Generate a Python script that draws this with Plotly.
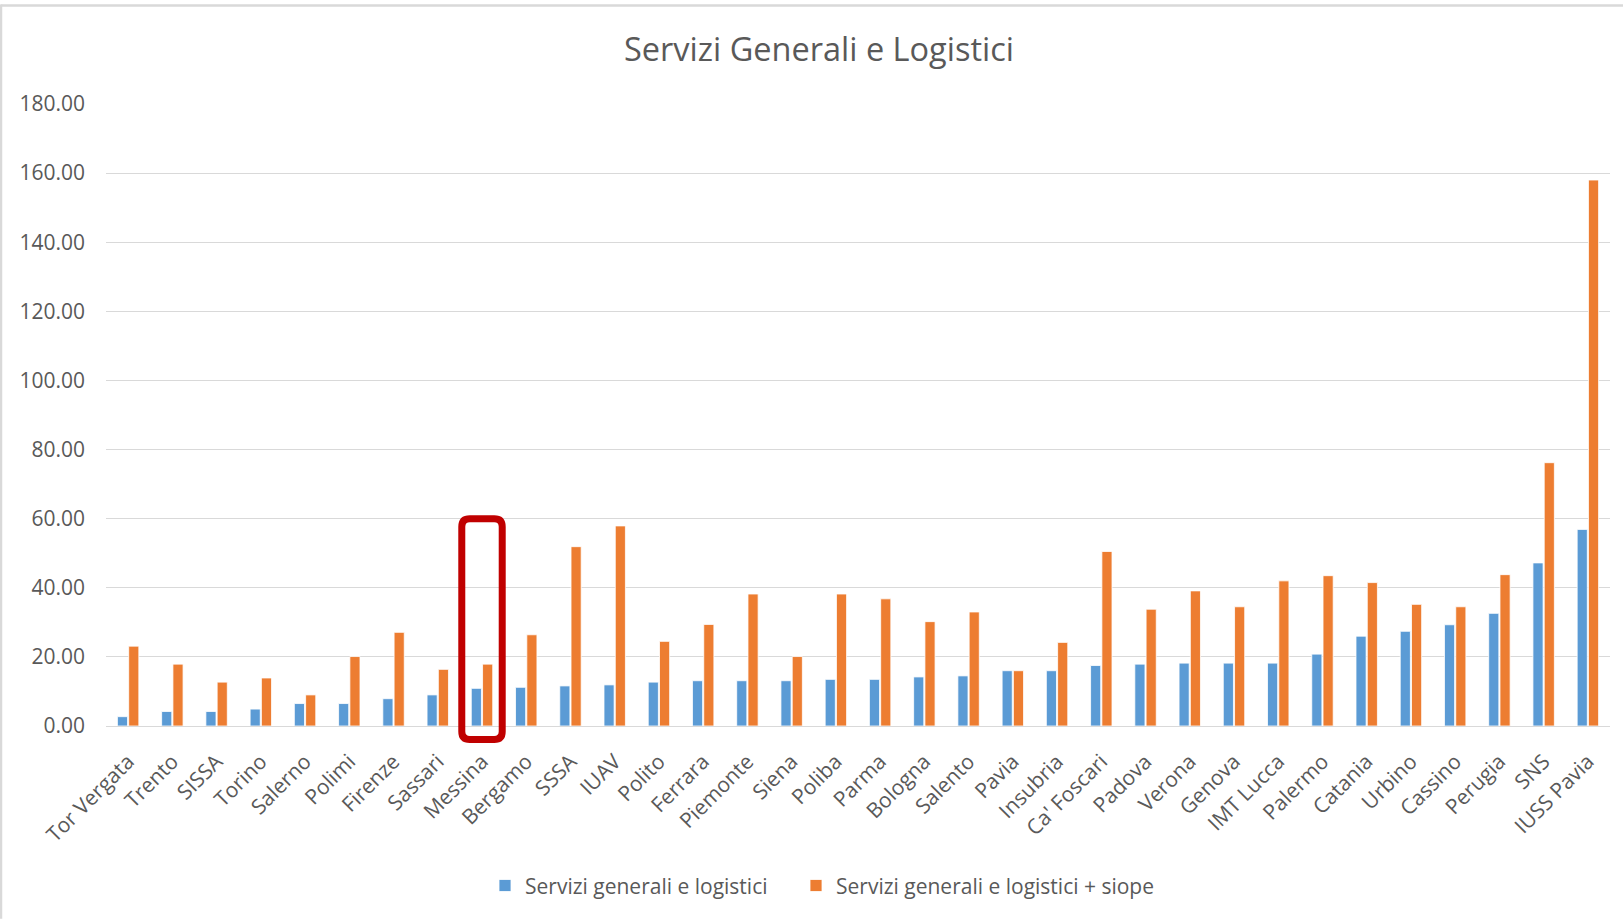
import plotly.graph_objects as go

categories = ["Tor Vergata", "Trento", "SISSA", "Torino", "Salerno", "Polimi", "Firenze",
              "Sassari", "Messina", "Bergamo", "SSSA", "IUAV", "Polito", "Ferrara",
              "Piemonte", "Siena", "Poliba", "Parma", "Bologna", "Salento", "Pavia",
              "Insubria", "Ca' Foscari", "Padova", "Verona", "Genova", "IMT Lucca",
              "Palermo", "Catania", "Urbino", "Cassino", "Perugia", "SNS", "IUSS Pavia"]

servizi = [2.7, 4.2, 4.2, 4.9, 6.5, 6.5, 7.9, 9.0, 10.9, 11.2, 11.6, 11.9, 12.7, 13.1,
           13.1, 13.1, 13.5, 13.5, 14.2, 14.5, 16.0, 16.0, 17.5, 17.9, 18.2, 18.2, 18.2,
           20.8, 26.0, 27.4, 29.3, 32.6, 47.2, 56.9]

servizi_siope = [23.1, 17.9, 12.7, 13.9, 9.0, 20.1, 27.1, 16.4, 17.9, 26.4, 51.9, 57.9,
                 24.5, 29.4, 38.2, 20.1, 38.2, 36.8, 30.2, 33.0, 16.0, 24.2, 50.5, 33.8,
                 39.1, 34.5, 42.0, 43.5, 41.5, 35.2, 34.5, 43.8, 76.2, 158.0]

y_ticks = [0, 20, 40, 60, 80, 100, 120, 140, 160, 180]
Y_MAX = 180

highlight = "Messina"

FONT = "Open Sans"
TXT = "#595959"

W, H = 1623, 919
ML, MR, MT, MB = 106, 13, 103.5, 193
PW, PH = W - ML - MR, H - MT - MB

fig = go.Figure()
fig.add_trace(go.Bar(x=categories, y=servizi, name="Servizi generali e logistici",
                     legend="legend",
                     marker=dict(color="#5B9BD5", line=dict(color="white", width=0.8))))
fig.add_trace(go.Bar(x=categories, y=servizi_siope, name="Servizi generali e logistici + siope",
                     legend="legend2",
                     marker=dict(color="#ED7D31", line=dict(color="white", width=0.8))))

# rounded highlight box around the highlighted category (paper coords derived from index/values)
n = len(categories)
i = categories.index(highlight)
x0 = (i + 0.5 - 0.457) / n
x1 = (i + 0.5 + 0.457) / n
y0 = -3.9 / Y_MAX
y1 = 60.0 / Y_MAX
rx, ry = 8 / PW, 8 / PH
path = (f"M {x0+rx},{y1} L {x1-rx},{y1} Q {x1},{y1} {x1},{y1-ry} "
        f"L {x1},{y0+ry} Q {x1},{y0} {x1-rx},{y0} L {x0+rx},{y0} "
        f"Q {x0},{y0} {x0},{y0+ry} L {x0},{y1-ry} Q {x0},{y1} {x0+rx},{y1} Z")
fig.add_shape(type="path", path=path, xref="paper", yref="paper",
              line=dict(color="#C00000", width=7), layer="above")

# outer chart border (top and left visible)
fig.add_shape(type="line", xref="paper", yref="paper", x0=-0.07, x1=1.01,
              y0=1.0 + (MT - 5) / PH, y1=1.0 + (MT - 5) / PH,
              line=dict(color="#D9D9D9", width=2.5))
fig.add_shape(type="line", xref="paper", yref="paper", x0=-(ML - 1) / PW, x1=-(ML - 1) / PW,
              y0=-MB / PH, y1=1.0 + (MT - 4) / PH,
              line=dict(color="#D9D9D9", width=2.5))

legend_common = dict(orientation="h", yanchor="middle", y=-0.257, xanchor="left",
                     font=dict(family=FONT, size=21, color=TXT), itemwidth=30,
                     bgcolor="rgba(0,0,0,0)")

fig.update_layout(
    width=W, height=H,
    margin=dict(l=ML, r=MR, t=MT, b=MB),
    paper_bgcolor="white", plot_bgcolor="white",
    title=dict(text="Servizi Generali e Logistici", x=819 / W, xanchor="center",
               y=1 - 50 / H, yanchor="middle",
               font=dict(family=FONT, size=32.5, color=TXT)),
    barmode="group", bargap=0.49, bargroupgap=0.1,
    font=dict(family=FONT, size=21, color=TXT),
    xaxis=dict(tickangle=-45, showgrid=False, showline=True, linecolor="#D9D9D9",
               linewidth=1, ticks="", ticklabelstandoff=14,
               tickfont=dict(family=FONT, size=21, color=TXT)),
    yaxis=dict(range=[0, Y_MAX], tickvals=y_ticks, tickformat=".2f", showgrid=True,
               gridcolor="#D9D9D9", gridwidth=1, zeroline=False, showline=False,
               ticks="", ticklabelstandoff=20,
               tickfont=dict(family=FONT, size=21, color=TXT)),
    legend=dict(x=(485 - ML) / PW, **legend_common),
    legend2=dict(x=(796 - ML) / PW, **legend_common),
    showlegend=True,
)

fig.write_html("out.html")
